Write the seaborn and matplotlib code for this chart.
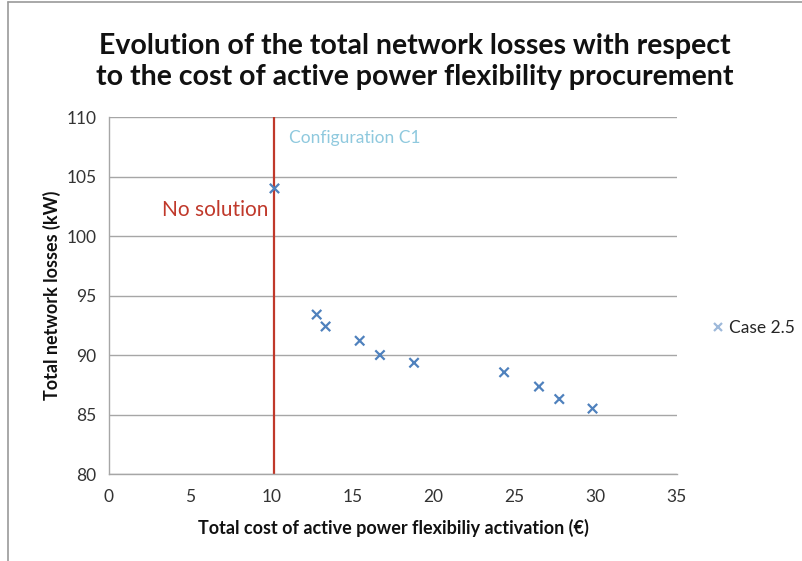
import matplotlib
matplotlib.use("Agg")
import matplotlib.pyplot as plt
from matplotlib.lines import Line2D
import seaborn as sns
import pandas as pd

# Cost of flexibility activation (EUR) vs total network losses (kW)
cost = [10.2, 12.8, 13.35, 15.45, 16.7, 18.8, 24.35, 26.5, 27.75, 29.8]
losses = [104.0, 93.4, 92.4, 91.2, 90.0, 89.35, 88.55, 87.35, 86.3, 85.5]
series_name = "Case 2.5"
limit_cost = 10.2

x_ticks = [0, 5, 10, 15, 20, 25, 30, 35]
y_ticks = [80, 85, 90, 95, 100, 105, 110]

df = pd.DataFrame({"cost": cost, "losses": losses, "series": series_name})

sns.set_theme(style="white")
plt.rcParams["font.family"] = ["Lato", "DejaVu Sans"]

fig = plt.figure(figsize=(8.03, 5.61), dpi=100)
ax = fig.add_axes([0.1357, 0.155, 0.843 - 0.1357, 0.7914 - 0.155])

blue = "#4f81bd"
grid_gray = "#a6a6a6"

sns.scatterplot(data=df, x="cost", y="losses", hue="series", palette=[blue],
                marker="x", s=45, linewidth=1.6, ax=ax, legend=True, zorder=3)

ax.axvline(limit_cost, color="#c0392b", lw=1.6, zorder=2)

ax.set_xlim(0, 35)
ax.set_ylim(80, 110)
ax.set_xticks(x_ticks)
ax.set_yticks(y_ticks)
ax.yaxis.grid(True, color=grid_gray, lw=1.0)
ax.xaxis.grid(False)
for side in ["top", "right"]:
    ax.spines[side].set_visible(False)
for side in ["left", "bottom"]:
    ax.spines[side].set_color(grid_gray)
    ax.spines[side].set_linewidth(1.0)
ax.tick_params(axis="both", which="both", direction="out", length=5, width=1,
               color=grid_gray, labelsize=12.5, labelcolor="#333333", pad=4)
ax.tick_params(axis="x", pad=6)

ax.set_xlabel("Total cost of active power flexibiliy activation (€)",
              fontsize=13, fontweight="bold", color="#111111", labelpad=10)
ax.set_ylabel("Total network losses (kW)", fontsize=13, fontweight="bold",
              color="#111111", labelpad=4)

ax.text(11.1, 108.2, "Configuration C1", color="#8fc9de", fontsize=12.5,
        va="center", ha="left")
ax.text(9.8, 102.2, "No solution", color="#c0392b", fontsize=15,
        va="center", ha="right")

fig.text(0.517, 0.89, "Evolution of the total network losses with respect\n"
         "to the cost of active power flexibility procurement",
         ha="center", va="center", fontsize=20.5, fontweight="bold",
         color="#111111", linespacing=1.25)

leg = ax.legend(loc="center left", bbox_to_anchor=(1.03, 0.41), frameon=False,
                fontsize=12.5, handletextpad=0.1, handlelength=1.0,
                markerscale=0.9)
for h in leg.legend_handles:
    h.set_alpha(0.55)

# outer chart frame (top and left edges)
fig.add_artist(Line2D([0.01, 1.0], [0.997, 0.997], transform=fig.transFigure,
                      color="#9a9a9a", lw=1.2))
fig.add_artist(Line2D([0.0105, 0.0105], [0.0, 0.997], transform=fig.transFigure,
                      color="#9a9a9a", lw=1.2))

fig.savefig("out.png", dpi=100)
